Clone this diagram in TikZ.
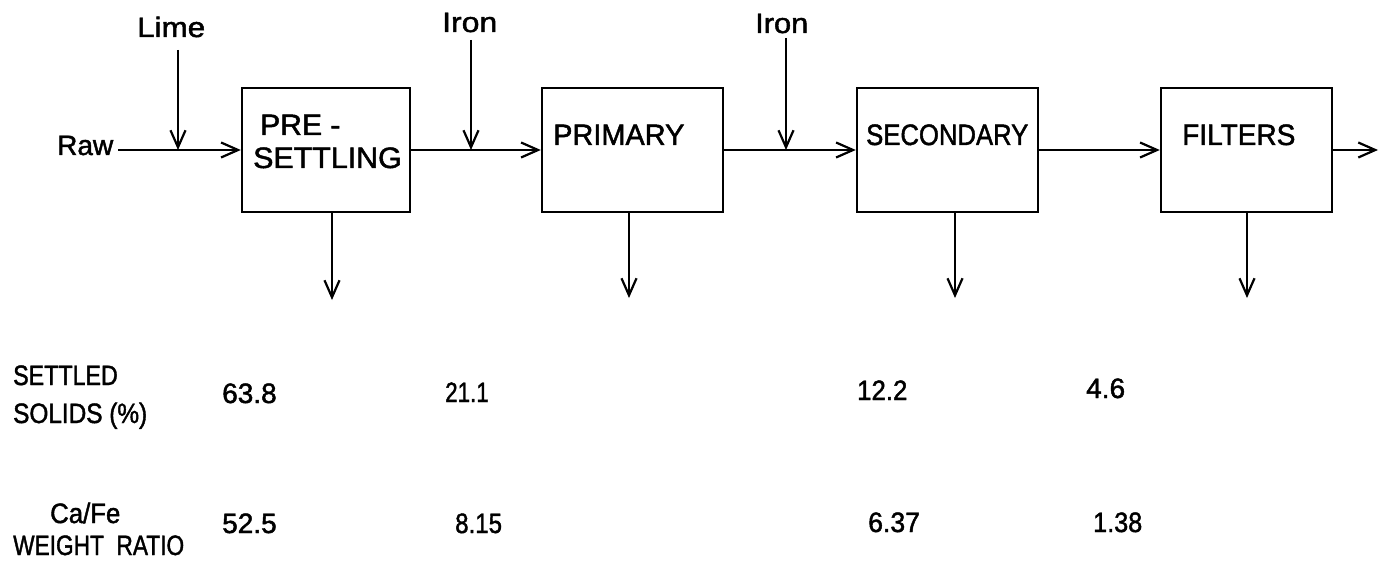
\documentclass[tikz,border=0pt]{standalone}
\usepackage{fontspec}
\setmainfont[FakeBold=1.6]{Liberation Sans}
\usetikzlibrary{arrows.meta}
% horizontal-only scaling of a lettered word
\newcommand\lettered[2]{\scalebox{#1}[1]{#2}}
\begin{document}
\begin{tikzpicture}[x=1pt,y=-1pt,
  ln/.style={line width=2.4pt},
  flow/.style={ln,-{Straight Barb[length=17pt,width=15pt,line width=2.2pt]}},
  unit/.style={draw,line width=2.4pt,minimum height=124pt,inner sep=0pt},
  txt/.style={anchor=base west,inner sep=0pt,font=\fontsize{28}{30}\selectfont},
  btxt/.style={txt,font=\fontsize{29.5}{31}\selectfont}]
\useasboundingbox (0,0) rectangle (1379,564);

% process units
\node[unit,minimum width=168pt] (b1) at (326,150) {};
\node[unit,minimum width=181pt] (b2) at (632.5,150) {};
\node[unit,minimum width=181pt] (b3) at (947.5,150) {};
\node[unit,minimum width=171pt] (b4) at (1246.5,150) {};

\node[btxt] (t1a) at (260,135) {\lettered{1.02}{PRE -}};
\node[btxt] (t1b) at (253,168) {\lettered{1.03}{SETTLING}};
\node[btxt] (t2) at (553,145) {\lettered{0.98}{PRIMARY}};
\node[btxt] (t3) at (866,145) {\lettered{0.87}{SECONDARY}};
\node[btxt] (t4) at (1182,145) {\lettered{0.95}{FILTERS}};

% feeds
\node[txt] (raw) at (57,155) {Raw};
\node[txt] (lime) at (137,37) {\lettered{1.12}{Lime}};
\node[txt] (iron1) at (442,32) {\lettered{1.14}{Iron}};
\node[txt] (iron2) at (755,33) {\lettered{1.1}{Iron}};

\coordinate (rawS) at (118,150);
\coordinate (limeS) at (178,50);
\coordinate (j1) at (178,150);
\coordinate (iron1S) at (471,40);
\coordinate (j2) at (471,150);
\coordinate (iron2S) at (786,38);
\coordinate (j3) at (786,150);
\coordinate (out) at (1378,150);

\draw[flow] (rawS) -- (b1.west);
\draw[flow] (limeS) -- (j1);
\draw[flow] (b1.east) -- (b2.west);
\draw[flow] (iron1S) -- (j2);
\draw[flow] (b2.east) -- (b3.west);
\draw[flow] (iron2S) -- (j3);
\draw[flow] (b3.east) -- (b4.west);
\draw[flow] (b4.east) -- (out);

% sludge outlets
\coordinate (o1) at (332,300);
\coordinate (o2) at (629,298);
\coordinate (o3) at (955,298);
\coordinate (o4) at (1247,298);
\draw[flow] (b1.south -| o1) -- (o1);
\draw[flow] (b2.south -| o2) -- (o2);
\draw[flow] (b3.south -| o3) -- (o3);
\draw[flow] (b4.south -| o4) -- (o4);

% data rows
\node[txt] (l1a) at (13,385) {\lettered{0.83}{SETTLED}};
\node[txt] (l1b) at (13,423) {\lettered{0.87}{SOLIDS (\%)}};
\node[txt] (l2a) at (50,523) {\lettered{0.92}{Ca/Fe}};
\node[txt] (l2b) at (13,555) {\lettered{0.81}{WEIGHT\ \ RATIO}};

\node[txt] (s1) at (222,403) {63.8};
\node[txt] (s2) at (445,402) {\lettered{0.8}{21.1}};
\node[txt] (s3) at (857,400) {\lettered{0.92}{12.2}};
\node[txt] (s4) at (1086,398) {4.6};

\node[txt] (r1) at (222,533) {52.5};
\node[txt] (r2) at (455,533) {\lettered{0.86}{8.15}};
\node[txt] (r3) at (868,532) {\lettered{0.95}{6.37}};
\node[txt] (r4) at (1093,532) {\lettered{0.9}{1.38}};
\end{tikzpicture}
\end{document}
